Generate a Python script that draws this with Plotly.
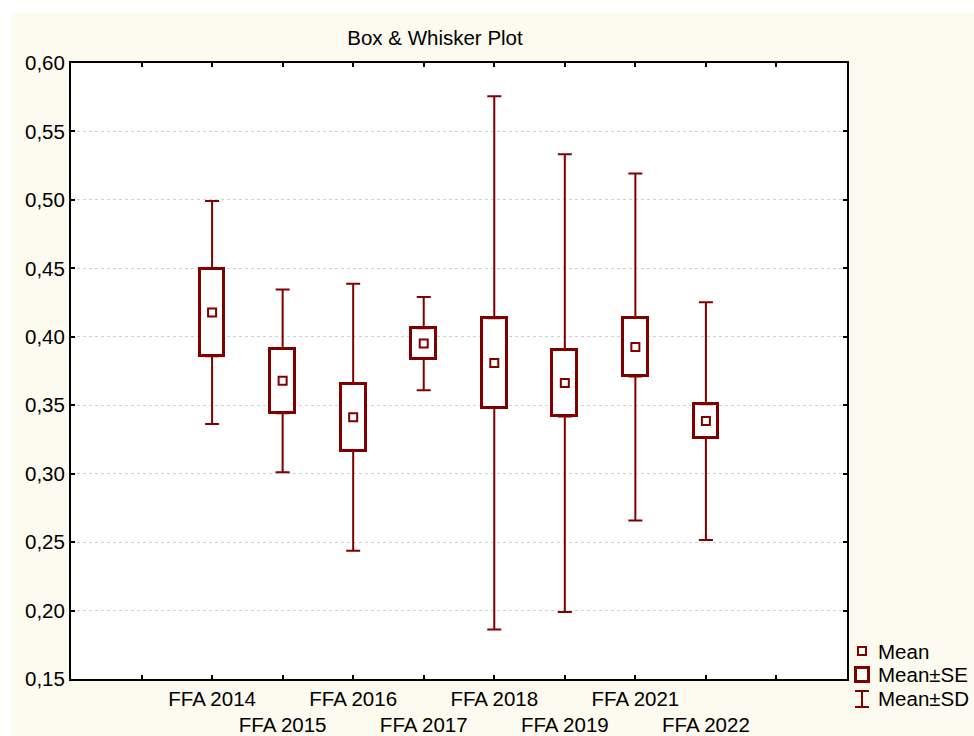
import plotly.graph_objects as go

# ---- data ----
categories = ["FFA 2014", "FFA 2015", "FFA 2016", "FFA 2017",
              "FFA 2018", "FFA 2019", "FFA 2021", "FFA 2022"]
means = [0.4177, 0.3678, 0.3412, 0.3950, 0.3809, 0.3662, 0.3925, 0.3384]
se = [0.0320, 0.0236, 0.0246, 0.0112, 0.0326, 0.0244, 0.0215, 0.0124]
sd = [0.0815, 0.0668, 0.0975, 0.0340, 0.1948, 0.1672, 0.1268, 0.0869]
y_ticks = [0.15, 0.20, 0.25, 0.30, 0.35, 0.40, 0.45, 0.50, 0.55, 0.60]

RED = "#800000"
CREAM = "#FDFAF0"
FONT = "Liberation Sans, Arial, sans-serif"
FS = 20.5

# reference geometry (px of the 974x736 picture)
W, H = 974, 736
L, R, T, B = 71, 847, 62, 678
# browser viewport is a bit taller than the final picture; compensate
H_FIG = 748
YS = H_FIG / H

def px_x(px):
    return (px - L) / (R - L)

def px_y(py):
    return (B - py) / (B - T)

xpos = list(range(1, len(categories) + 1))
box_base = [m - s for m, s in zip(means, se)]
box_h = [2 * s for s in se]
upper_start = [m + s for m, s in zip(means, se)]
upper_len = [d - s for d, s in zip(sd, se)]
lower_start = [m - s for m, s in zip(means, se)]

fig = go.Figure()

# Mean±SE box
fig.add_trace(go.Bar(
    x=xpos, y=box_h, base=box_base, width=0.35,
    marker=dict(color="white", line=dict(color=RED, width=3)),
    showlegend=False, hoverinfo="skip"))

# Upper whisker (Mean+SE -> Mean+SD)
fig.add_trace(go.Scatter(
    x=xpos, y=upper_start, mode="markers",
    marker=dict(size=1, color="rgba(0,0,0,0)"),
    error_y=dict(type="data", symmetric=False, array=upper_len,
                 arrayminus=[0] * len(xpos), color=RED, thickness=2, width=7),
    showlegend=False, hoverinfo="skip"))

# Lower whisker (Mean-SE -> Mean-SD)
fig.add_trace(go.Scatter(
    x=xpos, y=lower_start, mode="markers",
    marker=dict(size=1, color="rgba(0,0,0,0)"),
    error_y=dict(type="data", symmetric=False, array=[0] * len(xpos),
                 arrayminus=upper_len, color=RED, thickness=2, width=7),
    showlegend=False, hoverinfo="skip"))

# Mean markers
fig.add_trace(go.Scatter(
    x=xpos, y=means, mode="markers",
    marker=dict(symbol="square", size=8, color="white",
                line=dict(color=RED, width=2)),
    showlegend=False))

# tick labels, staggered
tickvals = list(range(0, len(categories) + 2))
ticktext = [""]
for i, c in enumerate(categories):
    ticktext.append(c if i % 2 == 0 else "<br>" + c)
ticktext.append("")

shapes = [
    # cream background
    dict(type="rect", xref="paper", yref="paper", layer="below",
         x0=px_x(11), x1=px_x(W + 5), y0=px_y(H + 5), y1=px_y(12),
         fillcolor=CREAM, line=dict(width=0)),
    # white plot area
    dict(type="rect", xref="paper", yref="paper", layer="below",
         x0=0, x1=1, y0=0, y1=1, fillcolor="white", line=dict(width=0)),
    # legend: Mean
    dict(type="rect", xref="paper", yref="paper",
         x0=px_x(858), x1=px_x(866), y0=px_y(654), y1=px_y(646),
         fillcolor="white", line=dict(color=RED, width=2)),
    # legend: Mean±SE
    dict(type="rect", xref="paper", yref="paper",
         x0=px_x(855.5), x1=px_x(868.5), y0=px_y(680.5), y1=px_y(666.5),
         fillcolor="white", line=dict(color=RED, width=3)),
    # legend: Mean±SD
    dict(type="line", xref="paper", yref="paper",
         x0=px_x(862), x1=px_x(862), y0=px_y(706), y1=px_y(690),
         line=dict(color=RED, width=2)),
    dict(type="line", xref="paper", yref="paper",
         x0=px_x(855), x1=px_x(869), y0=px_y(690), y1=px_y(690),
         line=dict(color=RED, width=2)),
    dict(type="line", xref="paper", yref="paper",
         x0=px_x(855), x1=px_x(869), y0=px_y(706), y1=px_y(706),
         line=dict(color=RED, width=2)),
]

annotations = []
for txt, py in [("Mean", 650), ("Mean±SE", 673), ("Mean±SD", 697)]:
    annotations.append(dict(
        text=txt, xref="paper", yref="paper", x=px_x(876), y=px_y(py),
        xanchor="left", yanchor="middle", showarrow=False,
        font=dict(family=FONT, size=FS, color="black")))

fig.update_layout(
    width=W, height=H_FIG,
    margin=dict(l=L, r=W - R, t=T * YS, b=H_FIG - B * YS, pad=0),
    paper_bgcolor="white", plot_bgcolor="white",
    separators=", ",
    font=dict(family=FONT, size=FS, color="black"),
    title=dict(text="Box & Whisker Plot", x=px_x(435), xref="paper",
               xanchor="center", y=1 - 37 / H, yref="container",
               yanchor="middle", font=dict(family=FONT, size=FS, color="black")),
    showlegend=False,
    shapes=shapes,
    annotations=annotations,
    bargap=0,
)

fig.update_xaxes(
    range=[-1, 10], tickmode="array", tickvals=tickvals, ticktext=ticktext,
    showgrid=False, zeroline=False,
    showline=True, linecolor="black", linewidth=2, mirror="ticks",
    ticks="inside", ticklen=4, tickwidth=1.5, tickcolor="black",
    tickfont=dict(family=FONT, size=FS, color="black"), tickangle=0,
)
fig.update_yaxes(
    range=[0.15, 0.60], tickmode="array", tickvals=y_ticks, tickformat=".2f",
    showgrid=True, gridcolor="#D0D0D0", gridwidth=1, griddash="dot",
    zeroline=False,
    showline=True, linecolor="black", linewidth=2, mirror="ticks",
    ticks="inside", ticklen=4, tickwidth=1.5, tickcolor="black",
    tickfont=dict(family=FONT, size=FS, color="black"),
)

post = (
    "var de=document.documentElement, bd=document.body;"
    "de.style.margin='0'; de.style.padding='0'; de.style.overflow='hidden';"
    "bd.style.margin='0'; bd.style.padding='0'; bd.style.overflow='hidden';"
    "bd.style.background='%s';"
) % CREAM

fig.write_html("out.html", config={"displayModeBar": False}, post_script=post)
